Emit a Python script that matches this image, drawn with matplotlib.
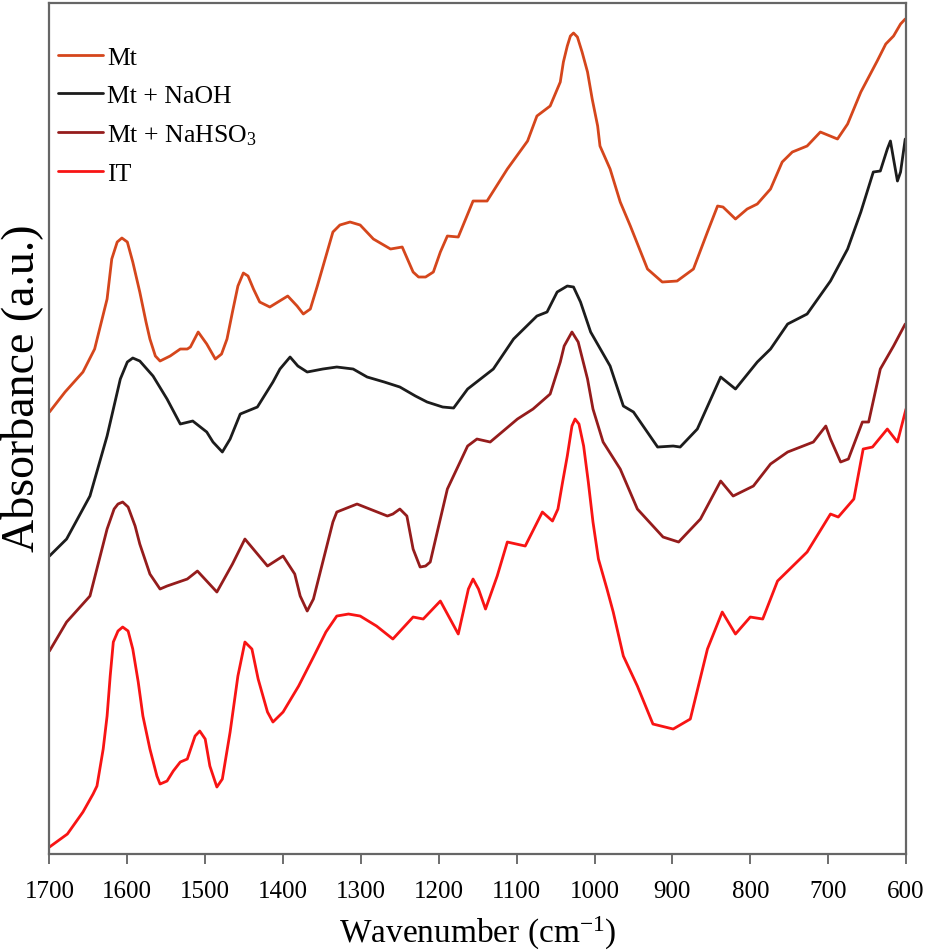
import matplotlib
matplotlib.use("Agg")
import matplotlib.pyplot as plt
import numpy as np

plt.rcParams['font.family'] = ['Liberation Serif', 'DejaVu Serif']
plt.rcParams['mathtext.fontset'] = 'custom'
plt.rcParams['mathtext.rm'] = 'Liberation Serif'
plt.rcParams['mathtext.it'] = 'Liberation Serif:italic'

# ---- data (wavenumber in cm-1, absorbance in arbitrary units, offset stacked) ----
mt_wn = [1700, 1680, 1657, 1642, 1626, 1620, 1613, 1607, 1600, 1593, 1584, 1576, 1571, 1564, 1558, 1545,
         1532, 1523, 1519, 1509, 1498, 1487, 1479, 1472, 1465, 1458, 1451, 1445, 1438, 1430, 1417, 1394,
         1382, 1374, 1365, 1356, 1336, 1327, 1314, 1301, 1284, 1262, 1247, 1233, 1226, 1217, 1207, 1198,
         1189, 1175, 1156, 1138, 1112, 1086, 1074, 1057, 1044, 1040, 1035, 1031, 1027, 1022, 1016, 1009,
         1003, 996, 993, 980, 967, 954, 932, 913, 894, 873, 855, 842, 835, 819, 804, 791, 774, 759, 746,
         727, 710, 688, 675, 658, 637, 626, 616, 607, 601]
mt_ab = [4.42, 4.62, 4.82, 5.05, 5.55, 5.95, 6.12, 6.16, 6.12, 5.92, 5.62, 5.32, 5.15, 4.98, 4.93, 4.98,
         5.05, 5.05, 5.07, 5.22, 5.10, 4.95, 5.00, 5.15, 5.42, 5.68, 5.81, 5.78, 5.65, 5.52, 5.47, 5.58,
         5.48, 5.40, 5.45, 5.68, 6.22, 6.29, 6.32, 6.29, 6.15, 6.05, 6.07, 5.82, 5.77, 5.77, 5.82, 6.02,
         6.18, 6.17, 6.53, 6.53, 6.85, 7.13, 7.38, 7.48, 7.72, 7.92, 8.08, 8.18, 8.21, 8.17, 8.02, 7.82,
         7.55, 7.28, 7.08, 6.85, 6.52, 6.28, 5.85, 5.72, 5.73, 5.85, 6.22, 6.48, 6.47, 6.35, 6.45, 6.50,
         6.65, 6.92, 7.02, 7.08, 7.22, 7.15, 7.30, 7.62, 7.93, 8.10, 8.18, 8.30, 8.35]

naoh_wn = [1700, 1678, 1648, 1626, 1609, 1600, 1593, 1584, 1567, 1549, 1532, 1516, 1498, 1490, 1478, 1468,
           1455, 1433, 1413, 1404, 1391, 1381, 1369, 1349, 1331, 1310, 1292, 1270, 1250, 1230, 1215, 1195,
           1181, 1163, 1130, 1104, 1074, 1061, 1048, 1035, 1027, 1018, 1005, 980, 963, 950, 919, 899, 890,
           868, 838, 819, 791, 774, 752, 727, 697, 675, 658, 642, 633, 624, 620, 616, 611, 607, 601]
naoh_ab = [2.98, 3.15, 3.58, 4.18, 4.75, 4.92, 4.96, 4.93, 4.78, 4.55, 4.30, 4.33, 4.22, 4.12, 4.02, 4.15,
           4.40, 4.47, 4.72, 4.85, 4.97, 4.88, 4.82, 4.85, 4.87, 4.85, 4.77, 4.72, 4.67, 4.58, 4.52, 4.47,
           4.46, 4.65, 4.85, 5.15, 5.38, 5.42, 5.62, 5.68, 5.67, 5.52, 5.22, 4.88, 4.48, 4.42, 4.07, 4.08,
           4.07, 4.25, 4.77, 4.65, 4.92, 5.05, 5.30, 5.40, 5.73, 6.05, 6.42, 6.82, 6.83, 7.05, 7.13, 6.95,
           6.73, 6.82, 7.15]

hso3_wn = [1700, 1678, 1648, 1626, 1617, 1612, 1606, 1599, 1590, 1584, 1571, 1558, 1549, 1523, 1510, 1485,
           1465, 1449, 1420, 1400, 1385, 1378, 1369, 1361, 1349, 1336, 1331, 1305, 1266, 1259, 1250, 1241,
           1233, 1224, 1217, 1211, 1202, 1189, 1163, 1151, 1134, 1099, 1079, 1057, 1044, 1039, 1029, 1021,
           1009, 1002, 989, 967, 945, 912, 892, 864, 838, 822, 796, 774, 752, 719, 703, 697, 684, 674, 656,
           648, 633, 616, 601]
hso3_ab = [2.03, 2.32, 2.58, 3.25, 3.45, 3.50, 3.52, 3.47, 3.28, 3.10, 2.80, 2.65, 2.68, 2.75, 2.83, 2.62,
           2.90, 3.15, 2.88, 2.98, 2.80, 2.58, 2.43, 2.55, 2.92, 3.32, 3.42, 3.50, 3.38, 3.40, 3.45, 3.38,
           3.05, 2.87, 2.88, 2.92, 3.22, 3.65, 4.08, 4.15, 4.12, 4.35, 4.45, 4.60, 4.92, 5.08, 5.22, 5.12,
           4.75, 4.45, 4.12, 3.85, 3.45, 3.17, 3.12, 3.35, 3.73, 3.58, 3.68, 3.90, 4.02, 4.12, 4.28, 4.15,
           3.92, 3.95, 4.32, 4.32, 4.85, 5.08, 5.30]

it_wn = [1700, 1677, 1657, 1644, 1639, 1631, 1626, 1622, 1618, 1612, 1606, 1599, 1593, 1586, 1580, 1571,
         1562, 1558, 1549, 1541, 1532, 1523, 1513, 1507, 1500, 1494, 1485, 1478, 1468, 1458, 1449, 1440,
         1432, 1420, 1413, 1400, 1380, 1361, 1345, 1331, 1316, 1301, 1280, 1259, 1233, 1220, 1198, 1175,
         1162, 1156, 1149, 1140, 1125, 1112, 1089, 1067, 1054, 1047, 1041, 1035, 1029, 1025, 1020, 1014,
         1008, 1002, 995, 984, 976, 963, 945, 925, 899, 877, 855, 836, 819, 800, 784, 765, 727, 697, 687,
         667, 655, 643, 624, 611, 600]
it_ab = [0.07, 0.20, 0.42, 0.60, 0.68, 1.05, 1.38, 1.78, 2.12, 2.23, 2.27, 2.23, 2.05, 1.72, 1.38, 1.05,
         0.78, 0.70, 0.73, 0.83, 0.92, 0.95, 1.18, 1.23, 1.15, 0.88, 0.67, 0.75, 1.22, 1.78, 2.12, 2.05,
         1.75, 1.42, 1.32, 1.42, 1.68, 1.97, 2.22, 2.38, 2.40, 2.38, 2.28, 2.15, 2.37, 2.35, 2.53, 2.20,
         2.65, 2.75, 2.65, 2.45, 2.78, 3.12, 3.08, 3.42, 3.33, 3.45, 3.72, 3.98, 4.28, 4.35, 4.30, 4.08,
         3.72, 3.32, 2.95, 2.65, 2.42, 1.98, 1.68, 1.30, 1.25, 1.35, 2.05, 2.42, 2.20, 2.37, 2.35, 2.73,
         3.02, 3.40, 3.37, 3.55, 4.05, 4.07, 4.25, 4.12, 4.45]

labels = ['Mt', 'Mt + NaOH', 'Mt + NaHSO$_3$', 'IT']
colors = ['#D5461C', '#1C1C1C', '#951C1C', '#F81414']
series = [(mt_wn, mt_ab), (naoh_wn, naoh_ab), (hso3_wn, hso3_ab), (it_wn, it_ab)]

fig = plt.figure(figsize=(9.28, 9.53), dpi=100)
ax = fig.add_axes([0.0533, 0.1028, 0.923, 0.893])

for (wn, ab), lab, c in zip(series, labels, colors):
    ax.plot(wn, ab, color=c, lw=2.0, label=lab, solid_joinstyle='round', solid_capstyle='round')

ax.set_xlim(1700, 600)
ax.set_ylim(0, 8.51)
ax.set_xticks(np.arange(1700, 599, -100))
ax.set_yticks([])
ax.tick_params(axis='x', direction='out', length=7, width=1.2, color='#555555',
               labelsize=18, pad=12)
for s in ax.spines.values():
    s.set_color('#666666')
    s.set_linewidth(1.6)

ax.set_xlabel('Wavenumber (cm$^{\\mathregular{-1}}$)', fontsize=24, labelpad=8)
ax.set_ylabel('Absorbance (a.u.)', fontsize=33)
ax.yaxis.set_label_coords(-0.007, 0.548)

leg = ax.legend(loc='upper left', bbox_to_anchor=(0.01, 0.949), frameon=False, fontsize=18.5,
                handlelength=1.75, handletextpad=0.15, labelspacing=0.58, borderaxespad=0.0,
                borderpad=0.0)

fig.savefig('out.png', dpi=100)
